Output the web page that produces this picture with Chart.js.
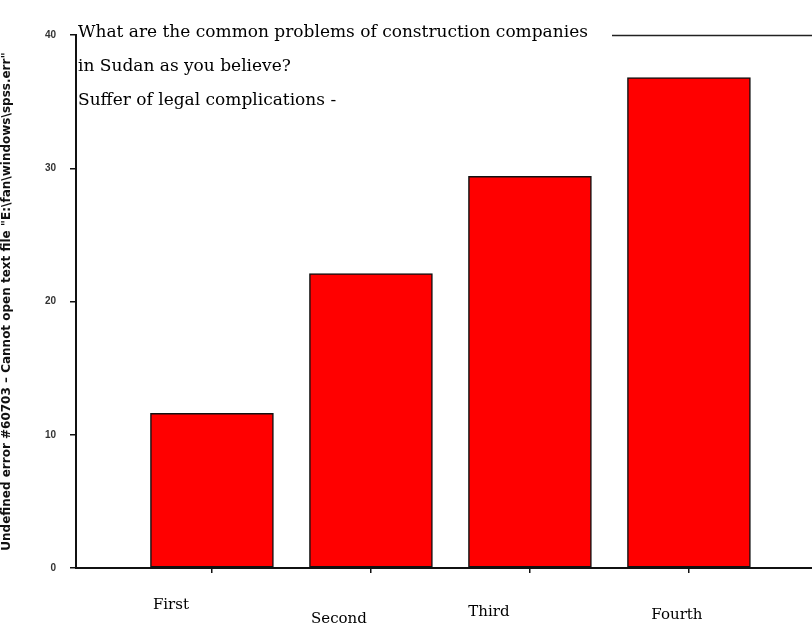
<!DOCTYPE html>
<html>
<head>
<meta charset="utf-8">
<script src="https://cdn.jsdelivr.net/npm/chart.js@4"></script>
<style>
  html, body { margin: 0; padding: 0; background: #fff; }
  #wrap { width: 812px; height: 628px; }
</style>
</head>
<body>
<div id="wrap"><canvas id="bars" width="812" height="628"></canvas></div>
<script>
// categories and values
const categories = ["First", "Second", "Third", "Fourth"];
const positions = [1, 2, 3, 4];
const values = [11.6, 22.1, 29.4, 36.8];
const yTicks = [0, 10, 20, 30, 40];
const titleLines = [
  "What are the common problems of construction companies",
  "in Sudan as you believe?",
  "Suffer of legal complications -"
];
const axisTitle = 'Undefined error #60703 \u2013 Cannot open text file "E:\\fan\\windows\\spss.err"';

// label nudges (the original staggers them)
const labelShift = [[-41, 37], [-32, 51], [-41, 44], [-12, 47]];

const decorations = {
  id: "decorations",
  afterDraw(chart) {
    const ctx = chart.ctx;
    const area = chart.chartArea;
    const x = chart.scales.x;

    ctx.save();
    // title block, top left of the plot
    ctx.fillStyle = "#000";
    ctx.font = "17px 'DejaVu Serif'";
    ctx.textBaseline = "middle";
    ctx.textAlign = "left";
    titleLines.forEach((t, i) => ctx.fillText(t, area.left + 2, 33 + i * 34));

    // line to the right of the title
    ctx.strokeStyle = "#222";
    ctx.lineWidth = 1.5;
    ctx.beginPath();
    ctx.moveTo(612, area.top + 0.5);
    ctx.lineTo(area.right, area.top + 0.5);
    ctx.stroke();

    // category labels
    ctx.font = "15px 'DejaVu Serif'";
    ctx.textAlign = "center";
    categories.forEach((c, i) => {
      const px = x.getPixelForValue(positions[i]) + labelShift[i][0];
      ctx.fillText(c, px, area.bottom + labelShift[i][1]);
    });
    ctx.restore();
  }
};

new Chart(document.getElementById("bars"), {
  type: "bar",
  data: {
    datasets: [{
      data: positions.map((p, i) => ({ x: p, y: values[i] })),
      backgroundColor: "#ff0000",
      borderColor: "#111",
      borderWidth: 1.5,
      borderSkipped: false,
      barThickness: 123
    }]
  },
  options: {
    responsive: false,
    animation: false,
    layout: { padding: { top: 35, right: 0, left: 0, bottom: 0 } },
    plugins: {
      legend: { display: false },
      tooltip: { enabled: false }
    },
    scales: {
      x: {
        type: "linear",
        min: 0.145,
        max: 4.774,
        offset: false,
        afterFit: (s) => { s.height = 60; },
        afterBuildTicks: (s) => { s.ticks = positions.map(v => ({ value: v })); },
        border: { color: "#111", width: 2 },
        grid: { offset: false, drawOnChartArea: false, tickLength: 5, color: "#111", lineWidth: 1.5 },
        ticks: { color: "rgba(0,0,0,0)", callback: () => "" }
      },
      y: {
        min: 0,
        max: 40,
        afterFit: (s) => { s.width = 76; },
        afterBuildTicks: (s) => { s.ticks = yTicks.map(v => ({ value: v })); },
        border: { color: "#111", width: 2 },
        grid: { drawOnChartArea: false, tickLength: 6, color: "#111", lineWidth: 1.5 },
        ticks: {
          color: "#333",
          padding: 14,
          font: { family: "'Liberation Sans'", size: 10, weight: "bold" }
        },
        title: {
          display: true,
          text: axisTitle,
          color: "#111",
          padding: { top: 0, bottom: 12 },
          font: { family: "'DejaVu Sans'", size: 12, weight: "bold" }
        }
      }
    }
  },
  plugins: [decorations]
});
</script>
</body>
</html>
